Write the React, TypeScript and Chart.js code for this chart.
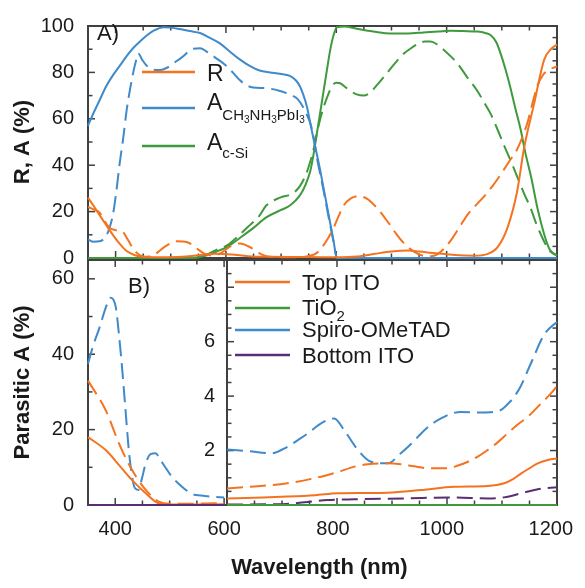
import React, { useEffect, useRef } from "react";
import { Chart, registerables } from "chart.js";
Chart.register(...registerables);

const FONT = "'Liberation Sans', Arial, Helvetica, sans-serif";
const TXT = "#1a1a1a";
const FRAME = "#404040";
const C_OR = "#F4731F";
const C_BL = "#3F8ACB";
const C_GR = "#3E9A3C";
const C_PU = "#5B2D72";
const DASH = [16, 7];

// ---------- Panel A : reflectance and absorption (%) ----------
const WL_R_SOLID = [350, 360, 371, 385, 395, 408, 420, 435, 450, 480, 520, 550, 580, 610, 640, 680, 750, 800, 837, 870, 900, 930, 950, 980, 1010, 1050, 1075, 1092, 1110, 1128, 1140, 1158, 1177, 1189, 1200];
const R_SOLID = [26, 22.5, 18.5, 13.5, 10, 6, 3, 1.2, 0.5, 0.3, 0.5, 1.2, 1.8, 1.5, 0.8, 0.5, 0.4, 0.3, 0.6, 1.8, 2.8, 3.2, 2.8, 2.0, 1.4, 1.0, 1.8, 4.6, 12.9, 29, 47, 66, 85.6, 90, 92];

const WL_R_DASH = [350, 360, 371, 380, 389, 400, 412, 422, 432, 442, 452, 470, 490, 510, 530, 545, 560, 575, 590, 608, 625, 645, 661, 680, 720, 760, 774, 785, 795, 805, 813, 825, 840, 856, 870, 880, 895, 910, 922, 935, 948, 960, 972, 983, 995, 1007, 1022, 1037, 1052, 1068, 1083, 1098, 1113, 1128, 1146, 1158, 1165, 1175, 1183, 1200];
const R_DASH = [22, 21, 19.5, 16, 13, 12, 11.5, 8, 4, 1.5, 0.5, 1.5, 5, 7.2, 6.8, 4.5, 2, 1, 2, 5, 6.3, 4.5, 2, 0.5, 0.3, 1.5, 4.6, 8.5, 13, 18.5, 22.5, 25.5, 26.7, 25.5, 22.5, 19.8, 15, 10, 6.5, 3.7, 1.8, 0.9, 0.8, 1.6, 4, 7.4, 12.8, 18.4, 22.5, 26.6, 31, 36, 41.5, 47, 58, 69, 74.6, 79, 80.8, 82.6];

const WL_PVK_SOLID = [350, 360, 371, 383, 395, 408, 420, 432, 445, 457, 469, 487, 500, 516, 535, 553, 570, 589, 607, 625, 643, 661, 680, 698, 716, 727, 734, 740, 747, 753, 759, 765, 771, 777, 783, 789, 795, 801, 850, 1200];
const PVK_SOLID = [57, 62.5, 68, 74, 78.7, 83, 87, 90.5, 93.5, 96, 98, 99.5, 99.3, 98.7, 97.8, 97, 95, 92.5, 89, 85.6, 82.8, 80.8, 80, 79.4, 78.5, 76.5, 74, 70.5, 65, 58, 51, 44.5, 37.6, 30, 22.6, 15, 7.5, 0, 0, 0];

const WL_PVK_DASH = [350, 360, 371, 383, 389, 395, 401, 407, 414, 420, 426, 432, 437, 441, 448, 456, 468, 481, 493, 505, 520, 541, 553, 565, 580, 601, 613, 625, 637, 649, 673, 698, 710, 722, 730, 740, 747, 753, 759, 765, 771, 777, 783, 789, 795, 801, 850, 1200];
const PVK_DASH = [8, 7, 7.2, 9.5, 13, 18.4, 28, 40, 52, 63.6, 72.5, 80, 85, 88.2, 85.5, 83, 81.2, 81, 82, 84, 86.5, 90.2, 90.4, 89, 86.5, 82.8, 79.8, 76.7, 74.5, 73.5, 73.2, 72, 71, 69.8, 68.5, 65, 61.5, 58, 52, 43, 36, 29, 21.5, 14, 7, 0, 0, 0];

const WL_SI_SOLID = [350, 540, 555, 570, 585, 600, 613, 630, 650, 673, 698, 716, 734, 745, 753, 759, 765, 771, 777, 783, 789, 795, 801, 815, 837, 870, 898, 930, 958, 985, 1007, 1030, 1056, 1070, 1080, 1090, 1098, 1107, 1116, 1125, 1134, 1143, 1153, 1165, 1177, 1186, 1193, 1200];
const SI_SOLID = [0, 0, 0.5, 1.5, 3, 4.5, 6.5, 9.5, 13, 17.5, 20.5, 22.6, 27, 32, 37.6, 45, 54, 63, 72, 81, 89.7, 96, 99.5, 99.8, 98.8, 97.5, 96.8, 96.8, 97.2, 97.6, 97.9, 97.8, 97.6, 97, 96, 93, 88, 81, 73, 64, 55.5, 45, 35, 21, 10, 4, 2, 1.2];

const WL_SI_DASH = [350, 540, 555, 570, 585, 601, 620, 640, 660, 673, 698, 722, 734, 745, 753, 759, 765, 771, 777, 783, 792, 800, 807, 820, 837, 850, 862, 874, 886, 898, 910, 922, 936, 950, 960, 971, 983, 995, 1007, 1019, 1037, 1056, 1068, 1080, 1092, 1104, 1116, 1128, 1140, 1153, 1162, 1171, 1179, 1186, 1200];
const SI_DASH = [0, 0, 0.8, 2, 3.8, 5.3, 9, 13.5, 18, 22.6, 26, 28, 31, 36, 41.7, 47, 54, 60, 65, 69, 74, 75.5, 75.3, 73, 70.5, 70, 71.5, 74.6, 78, 81.5, 85, 88, 90.5, 92.5, 93.3, 93.3, 92, 89.7, 87, 84, 78, 71.9, 67, 62, 55.5, 48.6, 42, 35, 28, 21, 15, 10, 6, 3.3, 1];

// ---------- Panel B : parasitic absorption (%), 350-600 nm ----------
const WL_B_SPIRO_DASH = [350, 360, 371, 383, 392, 401, 407, 413, 419, 425, 431, 436, 443, 449, 456, 465, 474, 483, 492, 504, 516, 528, 540, 558, 577, 600];
const B_SPIRO_DASH = [37.5, 42.5, 47, 52.5, 55, 52.5, 45, 35.7, 25, 14.5, 7.5, 4.5, 4, 7, 11, 13.5, 13.7, 12, 10, 7.5, 5.7, 4.2, 3, 2.5, 2.2, 2];
const WL_B_TOP_DASH = [350, 383, 407, 431, 456, 480, 500, 600];
const B_TOP_DASH = [33, 25, 16.3, 9.3, 4, 0.9, 0.3, 0.5];
const WL_B_TOP_SOLID = [350, 383, 407, 431, 456, 480, 500, 600];
const B_TOP_SOLID = [18, 14.5, 10.6, 6.6, 3.1, 0.4, 0.1, 0.2];
const WL_B_ZERO = [350, 600];
const B_ZERO = [0, 0];

// ---------- Panel B inset : parasitic absorption (%), 600-1200 nm ----------
const WL_I_SPIRO_DASH = [600, 638, 680, 710, 730, 747, 771, 795, 813, 838, 862, 892, 916, 935, 953, 971, 989, 1007, 1025, 1062, 1085, 1098, 1110, 1122, 1135, 1147, 1159, 1171, 1180, 1189, 1200];
const I_SPIRO_DASH = [2.04, 1.98, 1.9, 2.14, 2.4, 2.63, 3.0, 3.18, 2.75, 2.02, 1.59, 1.53, 1.9, 2.25, 2.63, 2.95, 3.18, 3.35, 3.42, 3.4, 3.42, 3.49, 3.7, 3.97, 4.4, 4.95, 5.5, 6.05, 6.35, 6.54, 6.72];
const WL_I_TOP_DASH = [600, 650, 710, 771, 800, 832, 856, 880, 916, 940, 965, 1001, 1020, 1038, 1056, 1074, 1092, 1110, 1128, 1147, 1171, 1189, 1200];
const I_TOP_DASH = [0.61, 0.68, 0.8, 1.04, 1.2, 1.41, 1.5, 1.53, 1.5, 1.42, 1.35, 1.35, 1.45, 1.59, 1.78, 2.02, 2.3, 2.63, 2.95, 3.24, 3.73, 4.1, 4.37];
const WL_I_TOP_SOLID = [600, 650, 710, 760, 801, 850, 892, 953, 1013, 1074, 1104, 1120, 1135, 1150, 1165, 1185, 1200];
const I_TOP_SOLID = [0.24, 0.27, 0.31, 0.36, 0.43, 0.44, 0.45, 0.55, 0.67, 0.7, 0.8, 0.95, 1.16, 1.35, 1.53, 1.66, 1.71];
const WL_I_BOT_DASH = [600, 700, 741, 783, 832, 922, 1013, 1074, 1104, 1135, 1165, 1200];
const I_BOT_DASH = [0.02, 0.03, 0.1, 0.18, 0.21, 0.24, 0.28, 0.24, 0.28, 0.43, 0.58, 0.65];
const WL_I_ZERO = [600, 1200];
const I_ZERO = [0, 0];

// ---------- tick labels ----------
const TOP_Y_TICKS = [0, 20, 40, 60, 80, 100];
const BOT_Y_TICKS = [0, 20, 40, 60];
const INSET_Y_TICKS = [2, 4, 6, 8];
const X_TICKS = [400, 600, 800, 1000, 1200];

const TOP_LEGEND = ["R", "A", "A"];
const BOTTOM_LEGEND = ["Top ITO", "TiO", "Spiro-OMeTAD", "Bottom ITO"];

const pts = (xs: number[], ys: number[]) => xs.map((x, i) => ({ x, y: ys[i] }));

function ds(xs: number[], ys: number[], color: string, dashed: boolean) {
  return {
    data: pts(xs, ys),
    borderColor: color,
    borderWidth: 2,
    borderDash: dashed ? DASH : [],
    pointRadius: 0,
    cubicInterpolationMode: "monotone" as const,
    clip: false as any,
    fill: false,
  };
}

type TickSpec = { side: string; from: number; to: number; step: number; major?: number };

function framePlugin(cfg: { ticks: TickSpec[]; fill?: boolean; after?: (ctx: CanvasRenderingContext2D) => void }) {
  return {
    id: "frameTicks",
    beforeDatasetsDraw(chart: any) {
      const { ctx, chartArea: a, scales } = chart;
      const xs = scales.x, ys = scales.y;
      ctx.save();
      if (cfg.fill) {
        ctx.fillStyle = "#fff";
        ctx.fillRect(a.left, a.top, a.right - a.left, a.bottom - a.top);
      }
      ctx.strokeStyle = FRAME;
      ctx.lineWidth = 2;
      ctx.strokeRect(a.left, a.top, a.right - a.left, a.bottom - a.top);
      ctx.lineWidth = 1.5;
      const line = (x1: number, y1: number, x2: number, y2: number) => {
        ctx.beginPath(); ctx.moveTo(x1, y1); ctx.lineTo(x2, y2); ctx.stroke();
      };
      for (const t of cfg.ticks) {
        const n = Math.round((t.to - t.from) / t.step);
        for (let i = 0; i <= n; i++) {
          const v = t.from + i * t.step;
          const isMajor = t.major ? Math.abs(v / t.major - Math.round(v / t.major)) < 1e-6 : false;
          const len = isMajor ? 7 : 4.5;
          if (t.side === "bottom") { const p = xs.getPixelForValue(v); line(p, a.bottom, p, a.bottom - len); }
          if (t.side === "top") { const p = xs.getPixelForValue(v); line(p, a.top, p, a.top + len); }
          if (t.side === "left") { const p = ys.getPixelForValue(v); line(a.left, p, a.left + len, p); }
          if (t.side === "right") { const p = ys.getPixelForValue(v); line(a.right, p, a.right - len, p); }
        }
      }
      ctx.restore();
    },
    afterDatasetsDraw(chart: any) {
      if (cfg.after) { chart.ctx.save(); cfg.after(chart.ctx); chart.ctx.restore(); }
    },
  };
}

function rich(ctx: CanvasRenderingContext2D, x: number, y: number, parts: { t: string; s: number; dy?: number }[]) {
  let cx = x;
  ctx.fillStyle = TXT;
  ctx.textAlign = "left";
  ctx.textBaseline = "alphabetic";
  for (const p of parts) {
    ctx.font = `${p.s}px ${FONT}`;
    ctx.fillText(p.t, cx, y + (p.dy || 0));
    cx += ctx.measureText(p.t).width;
  }
}

function legendLine(ctx: CanvasRenderingContext2D, x1: number, x2: number, y: number, color: string, w: number) {
  ctx.strokeStyle = color;
  ctx.lineWidth = w;
  ctx.setLineDash([]);
  ctx.beginPath(); ctx.moveTo(x1, y); ctx.lineTo(x2, y); ctx.stroke();
}

const tickFont = { family: FONT, size: 20 };
const titleFont = { family: FONT, size: 22, weight: "bold" as const };
const setTicks = (vals: number[]) => (s: any) => { s.ticks = vals.map((v) => ({ value: v })); };
const plain = (v: any) => String(v);

export default function App() {
  const topRef = useRef<HTMLCanvasElement>(null);
  const botRef = useRef<HTMLCanvasElement>(null);
  const insRef = useRef<HTMLCanvasElement>(null);

  useEffect(() => {
    Chart.defaults.font.family = FONT;
    const common = {
      responsive: false,
      animation: false as const,
      devicePixelRatio: 1,
      plugins: { legend: { display: false }, tooltip: { enabled: false } },
      events: [] as any[],
    };

    const hiddenX = (min: number, max: number) => ({
      type: "linear" as const, min, max,
      ticks: { display: false }, grid: { display: false, drawTicks: false }, border: { display: false },
      afterFit: (s: any) => { s.height = 0; },
    });

    // ---- Top chart (A) ----
    const top = new Chart(topRef.current!, {
      type: "line",
      data: {
        datasets: [
          ds(WL_R_SOLID, R_SOLID, C_OR, false),
          ds(WL_R_DASH, R_DASH, C_OR, true),
          ds(WL_PVK_SOLID, PVK_SOLID, C_BL, false),
          ds(WL_PVK_DASH, PVK_DASH, C_BL, true),
          ds(WL_SI_SOLID, SI_SOLID, C_GR, false),
          ds(WL_SI_DASH, SI_DASH, C_GR, true),
        ] as any,
      },
      options: {
        ...common,
        layout: { padding: { left: 0, right: 28, top: 15, bottom: 330 } },
        scales: {
          x: hiddenX(350, 1200),
          y: {
            min: 0, max: 100,
            afterBuildTicks: setTicks(TOP_Y_TICKS),
            ticks: { padding: 14, color: TXT, font: tickFont, callback: plain },
            grid: { display: false, drawTicks: false }, border: { display: false },
            title: { display: true, text: "R, A (%)", color: TXT, font: titleFont, padding: { top: 10, bottom: 0 } },
            afterFit: (s: any) => { s.width = 88; },
          },
        },
      } as any,
      plugins: [framePlugin({
        ticks: [
          { side: "bottom", from: 350, to: 1200, step: 50, major: 200 },
          { side: "top", from: 350, to: 1200, step: 50, major: 200 },
          { side: "left", from: 0, to: 100, step: 10, major: 20 },
          { side: "right", from: 0, to: 100, step: 5, major: 20 },
        ],
        after: (ctx) => {
          rich(ctx, 97, 40, [{ t: "A)", s: 22 }]);
          legendLine(ctx, 142, 195, 72, C_OR, 2.5);
          rich(ctx, 207, 81, [{ t: TOP_LEGEND[0], s: 23 }]);
          legendLine(ctx, 142, 195, 108, C_BL, 2.5);
          rich(ctx, 207, 110, [
            { t: TOP_LEGEND[1], s: 23 },
            { t: "CH", s: 15, dy: 10 }, { t: "3", s: 10, dy: 13 },
            { t: "NH", s: 15, dy: 10 }, { t: "3", s: 10, dy: 13 },
            { t: "PbI", s: 15, dy: 10 }, { t: "3", s: 10, dy: 13 },
          ]);
          legendLine(ctx, 142, 195, 146, C_GR, 2.5);
          rich(ctx, 207, 150, [{ t: TOP_LEGEND[2], s: 23 }, { t: "c-Si", s: 15, dy: 8 }]);
        },
      }) as any],
    });

    // ---- Bottom main chart (B), 350-600 ----
    const bot = new Chart(botRef.current!, {
      type: "line",
      data: {
        datasets: [
          ds(WL_B_ZERO, B_ZERO, C_PU, false),
          ds(WL_B_TOP_SOLID, B_TOP_SOLID, C_OR, false),
          ds(WL_B_TOP_DASH, B_TOP_DASH, C_OR, true),
          ds(WL_B_SPIRO_DASH, B_SPIRO_DASH, C_BL, true),
          ds(WL_B_ZERO, B_ZERO, C_BL, false),
          ds(WL_B_ZERO, B_ZERO, C_GR, false),
          ds(WL_B_ZERO, B_ZERO, C_GR, true),
          ds(WL_B_ZERO, B_ZERO, C_PU, true),
        ] as any,
      },
      options: {
        ...common,
        layout: { padding: { left: 0, right: 28, top: 260, bottom: 0 } },
        scales: {
          x: {
            type: "linear", min: 350, max: 1200,
            afterBuildTicks: setTicks(X_TICKS),
            ticks: { padding: 12, color: TXT, font: tickFont, autoSkip: false, maxRotation: 0, callback: plain },
            grid: { display: false, drawTicks: false }, border: { display: false },
            title: { display: true, text: "Wavelength (nm)", color: TXT, font: titleFont, padding: { top: 0, bottom: 7 } },
            afterFit: (s: any) => { s.height = 83; },
          },
          y: {
            min: 0, max: 65,
            afterBuildTicks: setTicks(BOT_Y_TICKS),
            ticks: { padding: 14, color: TXT, font: tickFont, callback: plain },
            grid: { display: false, drawTicks: false }, border: { display: false },
            title: { display: true, text: "Parasitic A (%)", color: TXT, font: titleFont, padding: { top: 10, bottom: 0 } },
            afterFit: (s: any) => { s.width = 88; },
          },
        },
      } as any,
      plugins: [framePlugin({
        ticks: [
          { side: "bottom", from: 350, to: 600, step: 50, major: 200 },
          { side: "top", from: 350, to: 600, step: 50, major: 200 },
          { side: "left", from: 0, to: 60, step: 10, major: 20 },
        ],
        after: (ctx) => { rich(ctx, 128, 293, [{ t: "B)", s: 22 }]); },
      }) as any],
    });

    // ---- Inset chart (B), 600-1200 ----
    const ins = new Chart(insRef.current!, {
      type: "line",
      data: {
        datasets: [
          ds(WL_I_ZERO, I_ZERO, C_GR, false),
          ds(WL_I_BOT_DASH, I_BOT_DASH, C_PU, true),
          ds(WL_I_TOP_SOLID, I_TOP_SOLID, C_OR, false),
          ds(WL_I_TOP_DASH, I_TOP_DASH, C_OR, true),
          ds(WL_I_SPIRO_DASH, I_SPIRO_DASH, C_BL, true),
          ds(WL_I_ZERO, I_ZERO, C_PU, false),
          ds(WL_I_ZERO, I_ZERO, C_BL, false),
          ds(WL_I_ZERO, I_ZERO, C_GR, true),
        ] as any,
      },
      options: {
        ...common,
        layout: { padding: { left: 195, right: 28, top: 260, bottom: 83 } },
        scales: {
          x: hiddenX(600, 1200),
          y: {
            min: 0, max: 9,
            afterBuildTicks: setTicks(INSET_Y_TICKS),
            ticks: { padding: 12, color: TXT, font: tickFont, callback: plain },
            grid: { display: false, drawTicks: false }, border: { display: false },
            afterFit: (s: any) => { s.width = 32; },
          },
        },
      } as any,
      plugins: [framePlugin({
        fill: true,
        ticks: [
          { side: "bottom", from: 600, to: 1200, step: 50, major: 200 },
          { side: "top", from: 600, to: 1200, step: 50, major: 200 },
          { side: "left", from: 0, to: 9, step: 0.5, major: 2 },
          { side: "right", from: 0, to: 9, step: 0.5, major: 2 },
        ],
        after: (ctx) => {
          const cols = [C_OR, C_GR, C_BL, C_PU];
          const ys = [282, 308, 330, 355];
          const bases = [290, 315, 337, 363];
          for (let i = 0; i < 4; i++) legendLine(ctx, 235, 290, ys[i], cols[i], 2.5);
          rich(ctx, 302, bases[0], [{ t: BOTTOM_LEGEND[0], s: 22 }]);
          rich(ctx, 302, bases[1], [{ t: BOTTOM_LEGEND[1], s: 22 }, { t: "2", s: 15, dy: 6 }]);
          rich(ctx, 302, bases[2], [{ t: BOTTOM_LEGEND[2], s: 22 }]);
          rich(ctx, 302, bases[3], [{ t: BOTTOM_LEGEND[3], s: 22 }]);
        },
      }) as any],
    });

    return () => { top.destroy(); bot.destroy(); ins.destroy(); };
  }, []);

  const cs: React.CSSProperties = { position: "absolute", left: 0, top: 0, width: 585, height: 588 };
  return (
    <div style={{ position: "fixed", left: 0, top: 0, width: 585, height: 588, background: "#fff" }}>
      <canvas ref={botRef} width={585} height={588} style={cs} />
      <canvas ref={insRef} width={585} height={588} style={cs} />
      <canvas ref={topRef} width={585} height={588} style={cs} />
    </div>
  );
}
